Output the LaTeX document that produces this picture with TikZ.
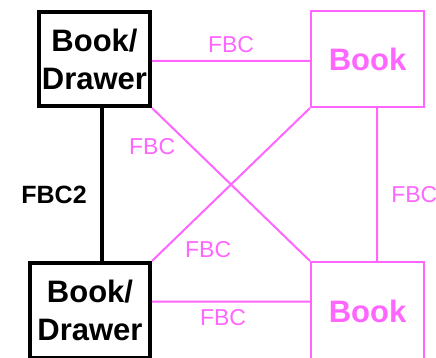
\documentclass[tikz,border=0pt]{standalone}
\usepackage{fontspec}
\setmainfont{Liberation Sans}
\usepackage{tikz}
\definecolor{fbcpink}{RGB}{255,102,255}

\begin{document}
\begin{tikzpicture}[x=1pt, y=-1pt,
		drawerbox/.style={draw, line width=4pt, align=center, inner sep=0pt, font=\fontsize{31}{38}\selectfont\bfseries},
		bookbox/.style={draw=fbcpink, text=fbcpink, line width=2pt, inner sep=0pt, font=\fontsize{31}{38}\selectfont\bfseries},
		fbc/.style={text=fbcpink, font=\fontsize{23}{23}\selectfont},
		pinkline/.style={draw=fbcpink, line width=2pt}]
				\path[use as bounding box, clip] (0,0) rectangle (436,358);
				\path (94.5, 59) node[drawerbox, minimum width=111pt, minimum height=94pt] (n1){Book/\\Drawer}
				(367.5, 59) node[bookbox, minimum width=113pt, minimum height=96pt] (n2){Book}
				(90, 310.5) node[drawerbox, minimum width=120pt, minimum height=95pt] (n3){Book/\\Drawer}
				(367.5, 311) node[bookbox, minimum width=113pt, minimum height=98pt] (n4){Book};
				
				\draw[line width=4pt] ([xshift=7.5pt]n1.south) -- node[pos=0.57, left=10pt, font=\fontsize{25}{25}\selectfont\bfseries] {FBC2} ([xshift=7.5pt]n1.south |- n3.north);
				\path[pinkline] ([yshift=-2pt]n1.east) -- node[above=4pt, fbc] {FBC} ([yshift=-2pt]n1.east -| n2.west)
				([yshift=9pt]n3.east) -- node[below=4pt, xshift=-8pt, fbc] {FBC} ([yshift=9pt]n3.east -| n4.west)
				(n1.south east) -- node[pos=0.25, left=12pt, fbc] {FBC} (n4.north west)
				(n2.south west) -- node[pos=0.925, right=17pt, fbc] {FBC} (n3.north east)
				([xshift=9.5pt]n2.south) -- node[pos=0.565, right=10pt, fbc] {FBC} ([xshift=9.5pt]n2.south |- n4.north);
			\end{tikzpicture}
\end{document}
